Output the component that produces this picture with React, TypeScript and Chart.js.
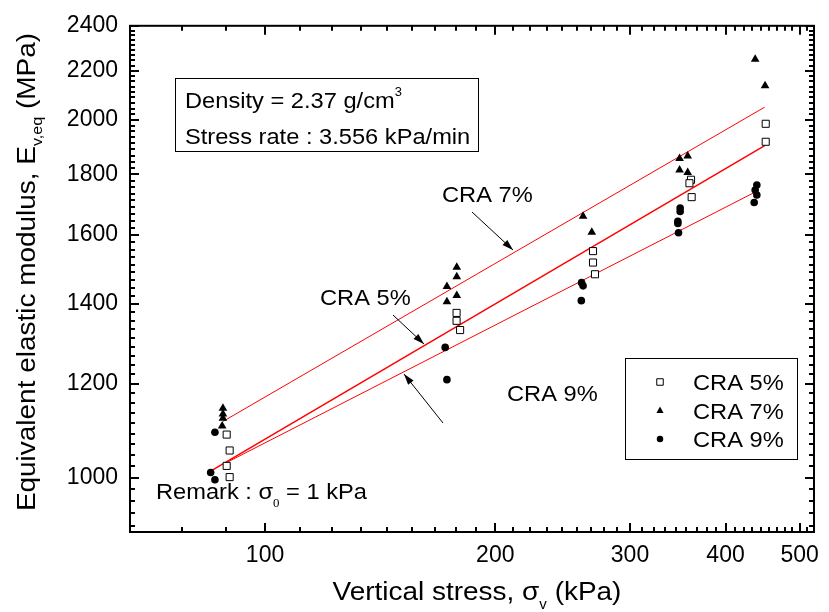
import React, { useEffect, useRef } from "react";
import { Chart, registerables } from "chart.js";

Chart.register(...registerables);

const FONT = '"Liberation Sans", Arial, sans-serif';

// Axis definitions
const xTickValues = [100, 200, 300, 400, 500];
const yTickValues = [1000, 1200, 1400, 1600, 1800, 2000, 2200, 2400];
const xMin = 66.6;
const xMax = 522;
const yMin = 900;
const yMax = 2400;

// CRA 5% (open squares)
const cra5X = [89.1, 89.9, 89.1, 89.9, 178.0, 178.0, 179.9, 268.4, 268.4, 270.0, 360.5, 358.8, 361.2, 451.4, 451.4];
const cra5Y = [1087, 1054, 1023, 1001, 1376, 1355, 1331, 1551, 1517, 1483, 1781, 1769, 1722, 1985, 1917];

// CRA 7% (filled triangles)
const cra7X = [88.1, 88.1, 88.1, 87.9, 178.1, 178.1, 172.9, 178.1, 172.9, 260.5, 267.4, 348.3, 356.9, 348.3, 356.9, 437.3, 450.5];
const cra7Y = [1144, 1131, 1122, 1105, 1503, 1476, 1448, 1423, 1406, 1659, 1609, 1856, 1865, 1815, 1806, 2249, 2137];

// CRA 9% (filled circles)
const cra9X = [86.0, 84.9, 86.0, 172.0, 172.9, 259.3, 260.5, 259.1, 348.9, 348.9, 346.5, 346.5, 347.2, 439.5, 437.3, 439.5, 436.0];
const cra9Y = [1092, 1010, 996, 1287, 1209, 1459, 1450, 1409, 1686, 1675, 1643, 1636, 1607, 1763, 1746, 1729, 1704];

// Regression lines (end points)
const fit7X = [88.1, 450];
const fit7Y = [1115, 2050];
const fit5X = [85.0, 450];
const fit5Y = [1013, 1903];
const fit9X = [88.9, 439.6];
const fit9Y = [1029, 1742];

const seriesLabels = ["CRA 5%", "CRA 7%", "CRA 9%"];

const toPts = (xs: number[], ys: number[]) => xs.map((x, i) => ({ x, y: ys[i] }));

type Part = { text: string; size: number; dy?: number; family?: string };

const SX = 1.075;

function drawRich(
  ctx: CanvasRenderingContext2D,
  x: number,
  y: number,
  parts: Part[],
  align: "left" | "center",
  sx: number = SX
) {
  let total = 0;
  const widths: number[] = [];
  for (const p of parts) {
    ctx.font = `${p.size}px ${p.family || FONT}`;
    const w = ctx.measureText(p.text).width;
    widths.push(w);
    total += w;
  }
  ctx.save();
  ctx.translate(x, y);
  ctx.scale(sx, 1);
  let cx = align === "center" ? -total / 2 : 0;
  ctx.textAlign = "left";
  ctx.textBaseline = "alphabetic";
  parts.forEach((p, i) => {
    ctx.font = `${p.size}px ${p.family || FONT}`;
    ctx.fillText(p.text, cx, p.dy || 0);
    cx += widths[i];
  });
  ctx.restore();
}

function drawArrow(ctx: CanvasRenderingContext2D, x1: number, y1: number, x2: number, y2: number) {
  ctx.beginPath();
  ctx.moveTo(x1, y1);
  ctx.lineTo(x2, y2);
  ctx.lineWidth = 1;
  ctx.strokeStyle = "#000";
  ctx.stroke();
  const ang = Math.atan2(y2 - y1, x2 - x1);
  const L = 11;
  const W = 3.5;
  const bx = x2 - L * Math.cos(ang);
  const by = y2 - L * Math.sin(ang);
  ctx.beginPath();
  ctx.moveTo(x2, y2);
  ctx.lineTo(bx + W * Math.sin(ang), by - W * Math.cos(ang));
  ctx.lineTo(bx - W * Math.sin(ang), by + W * Math.cos(ang));
  ctx.closePath();
  ctx.fillStyle = "#000";
  ctx.fill();
}

function drawMarker(ctx: CanvasRenderingContext2D, kind: string, x: number, y: number, s: number) {
  ctx.beginPath();
  if (kind === "rect") {
    ctx.rect(x - s / 2, y - s / 2, s, s);
    ctx.fillStyle = "#fff";
    ctx.fill();
    ctx.lineWidth = 1;
    ctx.strokeStyle = "#000";
    ctx.stroke();
  } else if (kind === "triangle") {
    ctx.moveTo(x, y - s * 0.6);
    ctx.lineTo(x + s * 0.55, y + s * 0.4);
    ctx.lineTo(x - s * 0.55, y + s * 0.4);
    ctx.closePath();
    ctx.fillStyle = "#000";
    ctx.fill();
  } else {
    ctx.arc(x, y, s / 2, 0, Math.PI * 2);
    ctx.fillStyle = "#000";
    ctx.fill();
  }
}

const decorPlugin = {
  id: "decor",
  afterDraw(chart: any) {
    const { ctx, chartArea: a, scales } = chart;
    const xs = scales.x;
    const ys = scales.y;
    ctx.save();

    // frame
    ctx.strokeStyle = "#000";
    ctx.lineWidth = 2;
    ctx.strokeRect(a.left, a.top, a.right - a.left, a.bottom - a.top);

    const tick = (x1: number, y1: number, x2: number, y2: number, w: number) => {
      ctx.beginPath();
      ctx.moveTo(x1, y1);
      ctx.lineTo(x2, y2);
      ctx.lineWidth = w;
      ctx.stroke();
    };

    // x ticks (inward, bottom & top)
    const xMinor: number[] = [];
    for (let base = 0; base <= 600; base += 100) {
      for (let k = 1; k <= 8; k++) {
        const v = base + (k * 100) / 9;
        if (v > xMin && v < xMax) xMinor.push(v);
      }
    }
    xMinor.forEach((v) => {
      const px = Math.round(xs.getPixelForValue(v));
      tick(px, a.bottom, px, a.bottom - 5, 2);
      tick(px, a.top, px, a.top + 5, 2);
    });
    xTickValues.forEach((v) => {
      const px = Math.round(xs.getPixelForValue(v));
      tick(px, a.bottom, px, a.bottom - 9, 2);
      tick(px, a.top, px, a.top + 9, 2);
    });

    // y ticks
    const yMinor: number[] = [];
    for (let base = 800; base <= 2400; base += 200) {
      for (let k = 1; k <= 8; k++) {
        const v = base + (k * 200) / 9;
        if (v > yMin && v < yMax) yMinor.push(v);
      }
    }
    yMinor.forEach((v) => {
      const py = Math.round(ys.getPixelForValue(v));
      tick(a.left, py, a.left + 5, py, 2);
      tick(a.right, py, a.right - 5, py, 2);
    });
    yTickValues.forEach((v) => {
      const py = Math.round(ys.getPixelForValue(v));
      tick(a.left, py, a.left + 9, py, 2);
      tick(a.right, py, a.right - 9, py, 2);
    });

    ctx.fillStyle = "#000";

    // axis titles
    drawRich(
      ctx,
      477,
      600,
      [
        { text: "Vertical stress, ", size: 26 },
        { text: "σ", size: 26 },
        { text: "v", size: 14, dy: 9 },
        { text: " (kPa)", size: 26 },
      ],
      "center"
    );
    ctx.save();
    ctx.translate(35, 272);
    ctx.rotate(-Math.PI / 2);
    drawRich(
      ctx,
      0,
      0,
      [
        { text: "Equivalent elastic modulus, E", size: 26 },
        { text: "v,eq", size: 15, dy: 7 },
        { text: " (MPa)", size: 26 },
      ],
      "center"
    );
    ctx.restore();

    // info box
    ctx.lineWidth = 1;
    ctx.strokeStyle = "#000";
    ctx.strokeRect(175.5, 78.5, 303, 73);
    ctx.fillStyle = "#000";
    drawRich(ctx, 185, 108, [
      { text: "Density = 2.37 g/cm", size: 22 },
      { text: "3", size: 12, dy: -12 },
    ], "left");
    drawRich(ctx, 185, 144, [{ text: "Stress rate : 3.556 kPa/min", size: 22 }], "left");

    // remark
    drawRich(ctx, 156, 499, [
      { text: "Remark : ", size: 22 },
      { text: "σ", size: 22 },
      { text: "0", size: 12, dy: 8, family: '"Liberation Serif", serif' },
      { text: " = 1 kPa", size: 22 },
    ], "left");

    // series callouts
    drawRich(ctx, 442, 202, [{ text: "CRA 7%", size: 22 }], "left");
    drawRich(ctx, 320, 305, [{ text: "CRA 5%", size: 22 }], "left");
    drawRich(ctx, 507, 401, [{ text: "CRA 9%", size: 22 }], "left");
    drawArrow(ctx, 472, 212, 513, 250);
    drawArrow(ctx, 393, 315, 424, 344);
    drawArrow(ctx, 443, 423, 404, 374);

    // legend
    ctx.lineWidth = 1;
    ctx.strokeStyle = "#000";
    ctx.strokeRect(625.5, 358.5, 172, 101);
    const kinds = ["rect", "triangle", "circle"];
    const rowY = [382, 410.5, 439];
    seriesLabels.forEach((label, i) => {
      drawMarker(ctx, kinds[i], 660, rowY[i], 6.5);
      ctx.fillStyle = "#000";
      drawRich(ctx, 693, rowY[i] + 8, [{ text: label, size: 22 }], "left");
    });

    ctx.restore();
  },
};

export default function App() {
  const ref = useRef<HTMLCanvasElement | null>(null);

  useEffect(() => {
    if (!ref.current) return;
    const chart = new Chart(ref.current, {
      type: "scatter",
      data: {
        datasets: [
          {
            label: seriesLabels[0],
            data: toPts(cra5X, cra5Y),
            pointStyle: "rect",
            pointRadius: 5,
            pointBackgroundColor: "#fff",
            pointBorderColor: "#000",
            pointBorderWidth: 1,
            showLine: false,
          },
          {
            label: seriesLabels[1],
            data: toPts(cra7X, cra7Y),
            pointStyle: "triangle",
            pointRadius: 5,
            pointBackgroundColor: "#000",
            pointBorderColor: "#000",
            pointBorderWidth: 0,
            showLine: false,
          },
          {
            label: seriesLabels[2],
            data: toPts(cra9X, cra9Y),
            pointStyle: "circle",
            pointRadius: 3.8,
            pointBackgroundColor: "#000",
            pointBorderColor: "#000",
            pointBorderWidth: 0,
            showLine: false,
          },
          {
            label: "fit 7",
            data: toPts(fit7X, fit7Y),
            showLine: true,
            borderColor: "#ff0000",
            borderWidth: 1,
            pointRadius: 0,
          },
          {
            label: "fit 5",
            data: toPts(fit5X, fit5Y),
            showLine: true,
            borderColor: "#ff0000",
            borderWidth: 1.5,
            pointRadius: 0,
          },
          {
            label: "fit 9",
            data: toPts(fit9X, fit9Y),
            showLine: true,
            borderColor: "#ff0000",
            borderWidth: 1,
            pointRadius: 0,
          },
        ],
      },
      options: {
        animation: false,
        responsive: false,
        devicePixelRatio: 1,
        events: [],
        layout: { padding: { top: 21, right: 6, left: 0, bottom: 0 } },
        plugins: { legend: { display: false }, tooltip: { enabled: false }, title: { display: false } },
        scales: {
          x: {
            type: "logarithmic",
            min: xMin,
            max: xMax,
            grid: { display: false, drawTicks: false },
            border: { display: false },
            afterBuildTicks: (s: any) => {
              s.ticks = xTickValues.map((v) => ({ value: v }));
            },
            afterFit: (s: any) => {
              s.height = 80;
            },
            ticks: {
              font: { family: FONT, size: 23 },
              color: "#000",
              padding: 10,
              maxRotation: 0,
              autoSkip: false,
              callback: (v: any) => String(v),
            },
          },
          y: {
            type: "logarithmic",
            min: yMin,
            max: yMax,
            grid: { display: false, drawTicks: false },
            border: { display: false },
            afterBuildTicks: (s: any) => {
              s.ticks = yTickValues.map((v) => ({ value: v }));
            },
            afterFit: (s: any) => {
              s.width = 130;
            },
            ticks: {
              font: { family: FONT, size: 23 },
              color: "#000",
              padding: 12,
              autoSkip: false,
              callback: (v: any) => String(v),
            },
          },
        },
      },
      plugins: [decorPlugin],
    });
    return () => chart.destroy();
  }, []);

  return (
    <div style={{ position: "absolute", left: 0, top: 0, width: 829, height: 612, background: "#fff" }}>
      <canvas ref={ref} width={829} height={612} />
    </div>
  );
}
